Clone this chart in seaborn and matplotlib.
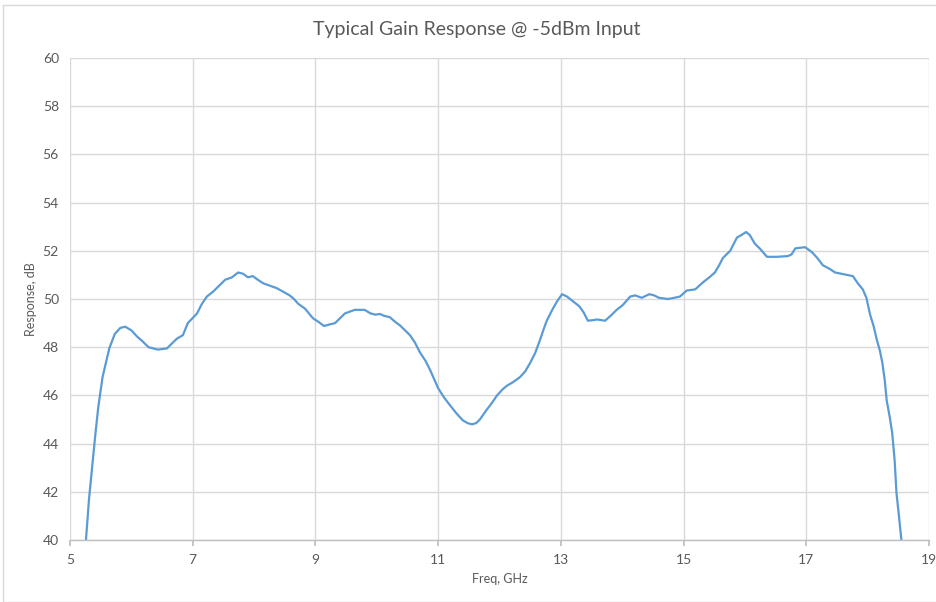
import matplotlib
matplotlib.use("Agg")
import numpy as np
import pandas as pd
import seaborn as sns
from matplotlib import pyplot as plt
from matplotlib.patches import Rectangle

# values
freq_ghz = [5.26, 5.31, 5.36, 5.41, 5.46, 5.53, 5.64, 5.73, 5.82, 5.9, 6.0, 6.09, 6.18, 6.28,
            6.43, 6.58, 6.66, 6.74, 6.84, 6.92, 7.07, 7.15, 7.23, 7.33, 7.43, 7.53, 7.64,
            7.74, 7.82, 7.9, 7.98, 8.06, 8.15, 8.37, 8.58, 8.65, 8.72, 8.83, 8.96, 9.05,
            9.14, 9.24, 9.32, 9.4, 9.48, 9.64, 9.8, 9.9, 9.98, 10.05, 10.12, 10.21, 10.3,
            10.38, 10.46, 10.54, 10.62, 10.7, 10.79, 10.87, 11.0, 11.1, 11.19, 11.3, 11.4,
            11.48, 11.55, 11.62, 11.68, 11.79, 11.88, 11.96, 12.05, 12.12, 12.22, 12.33,
            12.42, 12.5, 12.58, 12.66, 12.72, 12.77, 12.87, 12.95, 13.02, 13.1, 13.2, 13.3,
            13.37, 13.44, 13.52, 13.59, 13.72, 13.81, 13.91, 14.01, 14.13, 14.21, 14.32,
            14.44, 14.52, 14.6, 14.75, 14.85, 14.94, 15.05, 15.19, 15.32, 15.42, 15.51,
            15.58, 15.64, 15.76, 15.87, 15.94, 16.02, 16.08, 16.16, 16.24, 16.36, 16.52,
            16.7, 16.76, 16.82, 16.98, 17.09, 17.18, 17.27, 17.38, 17.47, 17.66, 17.76,
            17.84, 17.92, 17.98, 18.04, 18.1, 18.15, 18.2, 18.24, 18.28, 18.31, 18.36,
            18.4, 18.44, 18.47, 18.51, 18.55]
gain_db = [40.0, 41.7, 43.0, 44.3, 45.5, 46.75, 47.95, 48.55, 48.8, 48.85, 48.7, 48.45, 48.25,
           48.0, 47.9, 47.95, 48.15, 48.35, 48.5, 49.0, 49.4, 49.8, 50.1, 50.3, 50.55, 50.8,
           50.9, 51.1, 51.05, 50.9, 50.95, 50.8, 50.65, 50.45, 50.15, 50.0, 49.8, 49.6, 49.2,
           49.05, 48.88, 48.95, 49.0, 49.2, 49.4, 49.55, 49.55, 49.4, 49.35, 49.38, 49.3,
           49.25, 49.05, 48.9, 48.7, 48.5, 48.2, 47.8, 47.45, 47.05, 46.3, 45.9, 45.6,
           45.25, 44.97, 44.85, 44.8, 44.85, 45.0, 45.4, 45.7, 46.0, 46.25, 46.4, 46.55,
           46.75, 47.0, 47.35, 47.75, 48.3, 48.75, 49.1, 49.6, 49.95, 50.2, 50.1, 49.9,
           49.7, 49.45, 49.1, 49.12, 49.15, 49.1, 49.3, 49.55, 49.75, 50.1, 50.15, 50.05,
           50.2, 50.15, 50.05, 50.0, 50.05, 50.1, 50.35, 50.4, 50.7, 50.9, 51.1, 51.4,
           51.7, 52.0, 52.55, 52.65, 52.78, 52.65, 52.3, 52.1, 51.75, 51.75, 51.78, 51.85,
           52.1, 52.15, 51.95, 51.7, 51.4, 51.25, 51.1, 51.0, 50.95, 50.65, 50.4, 50.05,
           49.35, 48.85, 48.3, 47.85, 47.35, 46.6, 45.8, 45.1, 44.45, 43.3, 41.95, 41.0, 40.0]

x_ticks = [5, 7, 9, 11, 13, 15, 17, 19]
y_ticks = [40, 42, 44, 46, 48, 50, 52, 54, 56, 58, 60]

df = pd.DataFrame({"freq": freq_ghz, "gain": gain_db})

sns.set_theme(style="whitegrid")
plt.rcParams["font.family"] = ["Lato", "DejaVu Sans"]

text_grey = "#595959"
fig = plt.figure(figsize=(9.36, 6.02), dpi=100)
ax = fig.add_axes([70 / 936, 62 / 602, 859 / 936, 482 / 602])

sns.lineplot(data=df, x="freq", y="gain", sort=False, color="#5b9bd5",
             linewidth=1.6, ax=ax)

ax.set_xlim(5, 19)
ax.set_ylim(40, 60)
ax.set_xticks(x_ticks)
ax.set_yticks(y_ticks)
ax.grid(True, color="#d9d9d9", linewidth=1)
for side in ["top", "right", "left"]:
    ax.spines[side].set_visible(False)
ax.spines["bottom"].set_color("#bfbfbf")
ax.spines["bottom"].set_linewidth(1)
ax.tick_params(axis="x", colors=text_grey, labelsize=10, length=4, direction="out",
               color="#bfbfbf", bottom=True, pad=6)
ax.tick_params(axis="y", colors=text_grey, labelsize=10, length=0, pad=8)

ax.set_xlabel("Freq, GHz", color=text_grey, fontsize=9, labelpad=5)
ax.set_ylabel("Response, dB", color=text_grey, fontsize=9, labelpad=4)
fig.text(477 / 936, 1 - 30 / 602, "Typical Gain Response @ -5dBm Input",
         ha="center", va="center", color=text_grey, fontsize=14)

# light chart border as in the spreadsheet export
fig.patches.append(Rectangle((3 / 936, 0), 1, 1 - 5 / 602, transform=fig.transFigure,
                             fill=False, edgecolor="#d9d9d9", linewidth=1))

fig.savefig("out.png", dpi=100)
